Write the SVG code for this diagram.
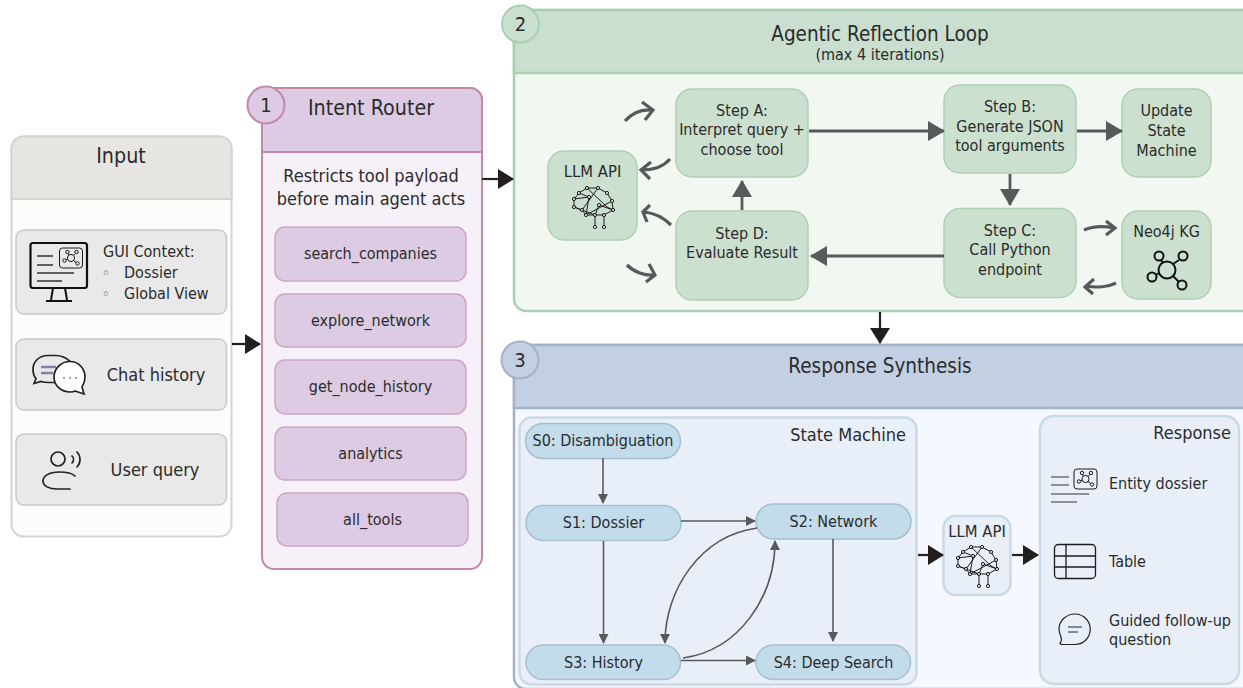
<svg xmlns="http://www.w3.org/2000/svg" width="1243" height="688" viewBox="0 0 1243 688">
<style>
text{font-family:"DejaVu Sans Condensed","DejaVu Sans","Liberation Sans",sans-serif;fill:#2b2b2b;text-anchor:middle}
.t20{font-size:20.500px}.t21{font-size:21.300px}.t18{font-size:18px}.t16{font-size:16px}.t165{font-size:16.500px}.num{font-size:20px}
.l{text-anchor:start}.e{text-anchor:end}
.bul{font-size:14px;font-family:"DejaVu Sans",sans-serif;fill:#444}
.card{fill:#e9e9e9;stroke:#c9c9c9;stroke-width:1.5}
.tool{fill:#dccbe3;stroke:#cda5c3;stroke-width:1.5}
.step{fill:#cbe0cf;stroke:#aed0b5;stroke-width:1.5}
.state{fill:#c3dcec;stroke:#a7bfd0;stroke-width:1.5}
.sub{fill:#e8eff9;stroke:#c9d9e8;stroke-width:2.5}
.blk{fill:none;stroke:#231f20;stroke-width:2.2}
.gr{fill:none;stroke:#58595b;stroke-width:2.8}
.cv{fill:none;stroke:#58595b;stroke-width:3.2;stroke-linejoin:miter}
.sm{fill:none;stroke:#58595b;stroke-width:1.6}
</style>
<defs>
<marker id="mb" markerUnits="userSpaceOnUse" markerWidth="16" markerHeight="20" refX="15" refY="10" orient="auto"><path d="M0 0L16 10L0 20Z" fill="#231f20"/></marker>
<marker id="mg" markerUnits="userSpaceOnUse" markerWidth="17" markerHeight="20" refX="16" refY="10" orient="auto"><path d="M0 0L17 10L0 20Z" fill="#58595b"/></marker>
<marker id="ms" markerUnits="userSpaceOnUse" markerWidth="10" markerHeight="10" refX="9" refY="5" orient="auto"><path d="M0 0L10 5L0 10Z" fill="#58595b"/></marker>
<g id="brain" fill="none" stroke="#1c1c1c" stroke-width="1">
<path d="M-14 -15L-6 -20L5 -20L14 -15L19 -7L20 2L11 7L2 7L-7 7L-11 2L-19 -1L-19 -9L-14 -15M-14 -15L-4 -11L-7 7M-19 -1L-11 2L2 7L2 19M11 7L11 19M-6 -20L14 -1L20 2M5 -20L-11 2M19 -7L-7 7M6 -3L2 7M-19 -9L-4 -11M6 -3L20 2"/>
<g fill="#fff" fill-opacity=".75"><circle cx="-6" cy="-20" r="1.600"/><circle cx="5" cy="-20" r="1.600"/><circle cx="14" cy="-15" r="1.600"/><circle cx="19" cy="-7" r="1.600"/><circle cx="20" cy="2" r="1.600"/><circle cx="11" cy="7" r="1.600"/><circle cx="2" cy="7" r="1.600"/><circle cx="-7" cy="7" r="1.600"/><circle cx="-11" cy="2" r="1.600"/><circle cx="-19" cy="-1" r="1.600"/><circle cx="-19" cy="-9" r="1.600"/><circle cx="-14" cy="-15" r="1.600"/><circle cx="-4" cy="-11" r="1.600"/><circle cx="6" cy="-3" r="1.600"/><circle cx="2" cy="19" r="1.600"/><circle cx="11" cy="19" r="1.600"/></g>
</g>
<g id="net" fill="none" stroke="#1c1c1c" stroke-width="1">
<rect x="-11.500" y="-10" width="23" height="20" rx="3"/>
<circle cx="0" cy="0" r="3.600"/><circle cx="-3.500" cy="-6" r="1.700"/><circle cx="5.500" cy="-6" r="1.700"/><circle cx="-6.500" cy="2.500" r="1.700"/><circle cx="6.500" cy="5.500" r="1.700"/>
<path d="M-2 -3L-3 -4.500M2.500 -2.500L4.500 -4.500M-3.500 1L-5 2M2.500 2.500L5 4.500"/>
</g>
</defs>

<g id="input">
<rect x="11.500" y="136.500" width="220" height="400" rx="12" fill="#fcfcfb" stroke="#d6d4d0" stroke-width="2"/>
<path d="M11.500 199V148.500a12 12 0 0 1 12 -12H219.500a12 12 0 0 1 12 12V199Z" fill="#e7e6e3" stroke="#d6d4d0" stroke-width="2"/>
<text class="t21" x="121" y="163">Input</text>
<g id="gui"><rect class="card" x="16" y="230" width="210.500" height="84" rx="8"/>
<rect x="30.500" y="243" width="56.500" height="45" rx="2.500" fill="none" stroke="#111" stroke-width="2.200"/>
<path d="M53 288L51 300M65 288L67 300M46 301H72" fill="none" stroke="#111" stroke-width="2"/>
<path d="M37 256H53M37 265H53M37 273H74M37 281H62" fill="none" stroke="#333" stroke-width="1.300"/>
<use href="#net" x="71" y="258"/>
<text class="t16 l" x="103" y="257">GUI Context:</text>
<text class="bul" x="106" y="278">◦</text><text class="t16 l" x="124" y="278">Dossier</text>
<text class="bul" x="106" y="299">◦</text><text class="t16 l" x="124" y="299">Global View</text></g>
<g id="chat"><rect class="card" x="16" y="339" width="210.500" height="71" rx="8"/>
<path d="M48 355.500c-9 0-15 6-15 14c0 4 1 7 3 9l-2 5l7-2c3 1 5 1 8 1h8c1-13 6-19 13-21c-3-4-10-6-14-6Z" fill="none" stroke="#222" stroke-width="1.700"/>
<path d="M41 367H56M41 373H53" stroke="#7e84a3" stroke-width="2.500"/>
<path d="M70 361.500c-9 0-16 7-16 15.500s7 15 16 15c2 0 4 0 5 -1l9 3l-2-7c2-3 3-6 3-10c0-8-6-15.500-15-15.500Z" fill="#fff" stroke="#222" stroke-width="1.700"/>
<g fill="#7e84a3"><circle cx="64" cy="378" r="1"/><circle cx="70" cy="378" r="1"/><circle cx="76" cy="378" r="1"/></g>
<text class="t18" x="156" y="381">Chat history</text></g>
<g id="user"><rect class="card" x="16" y="434" width="210.500" height="71" rx="8"/>
<circle cx="58" cy="459" r="7" fill="none" stroke="#222" stroke-width="1.700"/>
<path d="M75 476c-3-3-9-4-16-4c-10 0-16 4-16 9s6 8 14 8h13M72 456c2 2 2 5 0 7M77 452c4 4 4 11 0 15" fill="none" stroke="#222" stroke-width="1.700" stroke-linecap="round"/>
<text class="t18" x="155" y="476">User query</text></g>
</g>

<g id="router">
<rect x="262" y="88" width="220" height="481" rx="12" fill="#f6f1f8" stroke="#c08aa8" stroke-width="2"/>
<path d="M262 152V100a12 12 0 0 1 12 -12H470a12 12 0 0 1 12 12V152Z" fill="#dccbe3" stroke="#c08aa8" stroke-width="2"/>
<circle cx="266" cy="105" r="18.500" fill="#dccbe3" stroke="#c08aa8" stroke-width="2"/>
<text class="num" x="266" y="112">1</text>
<text class="t21" x="371" y="115">Intent Router</text>
<text class="t18" x="371" y="182">Restricts tool payload</text>
<text class="t18" x="371" y="205">before main agent acts</text>
<g id="t1"><rect class="tool" x="275" y="227" width="191" height="54" rx="10"/><text class="t16" x="370.500" y="259">search_companies</text></g>
<g id="t2"><rect class="tool" x="275" y="294" width="191" height="53" rx="10"/><text class="t16" x="370.500" y="326">explore_network</text></g>
<g id="t3"><rect class="tool" x="275" y="360" width="191" height="54" rx="10"/><text class="t16" x="370.500" y="392">get_node_history</text></g>
<g id="t4"><rect class="tool" x="275" y="427" width="191" height="53" rx="10"/><text class="t16" x="370.500" y="459">analytics</text></g>
<g id="t5"><rect class="tool" x="277" y="493" width="191" height="53" rx="10"/><text class="t16" x="372.500" y="525">all_tools</text></g>
</g>

<g id="reflection">
<rect x="514" y="10" width="740" height="301" rx="12" fill="#f2f8f1" stroke="#a9cfb1" stroke-width="2.500"/>
<path d="M514 73V22a12 12 0 0 1 12 -12H1254V73Z" fill="#cadfcf" stroke="#a9cfb1" stroke-width="2.500"/>
<circle cx="520.500" cy="24" r="18.500" fill="#cadfcf" stroke="#a9cfb1" stroke-width="2"/>
<text class="num" x="520.500" y="31">2</text>
<text class="t20" x="880" y="41">Agentic Reflection Loop</text>
<text class="t16" x="880" y="60">(max 4 iterations)</text>
<g id="stepA"><rect class="step" x="676" y="89" width="132" height="88" rx="16"/><text class="t16" x="742" y="116">Step A:</text><text class="t16" x="742" y="135">Interpret query +</text><text class="t16" x="742" y="155">choose tool</text></g>
<g id="stepB"><rect class="step" x="944" y="85" width="132" height="88" rx="16"/><text class="t16" x="1010" y="112">Step B:</text><text class="t16" x="1010" y="132">Generate JSON</text><text class="t16" x="1010" y="151">tool arguments</text></g>
<g id="update"><rect class="step" x="1122" y="89" width="89" height="88" rx="16"/><text class="t16" x="1166.500" y="116">Update</text><text class="t16" x="1166.500" y="136">State</text><text class="t16" x="1166.500" y="156">Machine</text></g>
<g id="stepC"><rect class="step" x="944" y="208.500" width="132" height="89" rx="16"/><text class="t16" x="1010" y="236">Step C:</text><text class="t16" x="1010" y="255">Call Python</text><text class="t16" x="1010" y="275">endpoint</text></g>
<g id="stepD"><rect class="step" x="676" y="211" width="132" height="89" rx="16"/><text class="t16" x="742" y="239">Step D:</text><text class="t16" x="742" y="258">Evaluate Result</text></g>
<g id="llm1"><rect class="step" x="548" y="151" width="89" height="89" rx="16"/><text class="t165" x="592.500" y="177">LLM API</text><use href="#brain" x="593" y="208"/></g>
<g id="neo"><rect class="step" x="1122" y="211" width="89" height="88" rx="16"/><text class="t16" x="1166.500" y="237">Neo4j KG</text>
<g fill="none" stroke="#111" stroke-width="2"><circle cx="1167" cy="270" r="8.500"/><circle cx="1159" cy="256" r="4.500"/><circle cx="1183" cy="256" r="4.500"/><circle cx="1152" cy="277" r="4.500"/><circle cx="1182" cy="285" r="4.500"/><path d="M1161 260L1163 263M1179 260L1173 264M1156 275L1159 273M1179 282L1173 276"/></g></g>
</g>

<g id="response">
<rect x="514" y="345" width="740" height="344" rx="12" fill="#f5f8fe" stroke="#a3b2c9" stroke-width="2.500"/>
<path d="M514 408V357a12 12 0 0 1 12 -12H1254V408Z" fill="#c3cfe3" stroke="#a3b2c9" stroke-width="2.500"/>
<circle cx="520" cy="360" r="18.500" fill="#c3cfe3" stroke="#a3b2c9" stroke-width="2"/>
<text class="num" x="520" y="367">3</text>
<text class="t20" x="880" y="373">Response Synthesis</text>
<rect class="sub" x="519.500" y="417.500" width="397" height="267" rx="12"/>
<text class="t18 e" x="906" y="441">State Machine</text>
<g id="s0"><rect class="state" x="525.500" y="423.500" width="155" height="35" rx="17.500"/><text class="t16" x="603" y="446">S0: Disambiguation</text></g>
<g id="s1"><rect class="state" x="526" y="505.500" width="155" height="35" rx="17.500"/><text class="t16" x="603.500" y="528">S1: Dossier</text></g>
<g id="s2"><rect class="state" x="756" y="504" width="155" height="35" rx="17.500"/><text class="t16" x="833.500" y="527">S2: Network</text></g>
<g id="s3"><rect class="state" x="526" y="645" width="154.500" height="34.500" rx="17.250"/><text class="t16" x="603.500" y="668">S3: History</text></g>
<g id="s4"><rect class="state" x="756" y="645" width="154.500" height="34.500" rx="17.250"/><text class="t16" x="833.500" y="668">S4: Deep Search</text></g>
<g id="llm2"><rect class="sub" x="943.500" y="516" width="67" height="79" rx="12" stroke-width="2"/><text class="t165" x="977" y="537">LLM API</text><use href="#brain" x="977" y="567"/></g>
<g id="resp"><rect class="sub" x="1040" y="416" width="199" height="268" rx="14"/>
<text class="t18 e" x="1231" y="439">Response</text>
<use href="#net" x="1085.500" y="479"/>
<path d="M1051 477H1069M1051 485H1069M1051 494H1089M1051 502H1077" fill="none" stroke="#333" stroke-width="1.200"/>
<text class="t16 l" x="1109" y="489">Entity dossier</text>
<rect x="1054.500" y="544.500" width="41" height="34" rx="4" fill="none" stroke="#1c1c1c" stroke-width="1.300"/>
<path d="M1055 556H1095M1055 567H1095M1066 545V578" fill="none" stroke="#1c1c1c" stroke-width="1.300"/>
<text class="t16 l" x="1109" y="567">Table</text>
<path d="M1075 614a15 15 0 0 1 0 30.500h-12c-2 0-3-.5-3-1.500c1-1 2-3 1-6c-1-3-2-5-2-8c0-8 7-15 16-15Z" fill="none" stroke="#222" stroke-width="1.200"/>
<path d="M1068 627H1082M1068 632H1078" stroke="#8088aa" stroke-width="1.800"/>
<text class="t16 l" x="1109" y="626">Guided follow-up</text>
<text class="t16 l" x="1109" y="645">question</text></g>
</g>

<g id="connectors">
<path class="blk" marker-end="url(#mb)" d="M232 344H260"/>
<path class="blk" marker-end="url(#mb)" d="M482 179H513"/>
<path class="blk" marker-end="url(#mb)" d="M880 312V343"/>
<path class="blk" marker-end="url(#mb)" d="M918 555H943"/>
<path class="blk" marker-end="url(#mb)" d="M1012 555H1038"/>
<path class="gr" marker-end="url(#mg)" d="M809 131H944"/>
<path class="gr" marker-end="url(#mg)" d="M1077 131H1122"/>
<path class="gr" marker-end="url(#mg)" d="M1010 174V205"/>
<path class="gr" marker-end="url(#mg)" d="M944 256H811"/>
<path class="gr" marker-end="url(#mg)" d="M742 210V181"/>
<path class="cv" d="M625 121C632 113 642 109 652 110M642 102L653 110L645 120"/>
<path class="cv" d="M670 159C663 167 652 170 642 170M651 162L641 170L650 179"/>
<path class="cv" d="M671 225C664 218 655 213 644 212M650 205L643 212L647 222"/>
<path class="cv" d="M627 265C634 272 645 276 654 275M649 264L655 275L646 282"/>
<path class="cv" d="M1084 230C1093 226 1104 226 1114 228M1106 221L1115 228L1106 235"/>
<path class="cv" d="M1116 283C1108 287 1096 288 1086 286M1094 279L1085 287L1093 294"/>
<path class="sm" marker-end="url(#ms)" d="M603 458V503"/>
<path class="sm" marker-end="url(#ms)" d="M603.500 541V643"/>
<path class="sm" marker-end="url(#ms)" d="M681 521H755"/>
<path class="sm" marker-end="url(#ms)" d="M833 539V641"/>
<path class="sm" marker-end="url(#ms)" d="M681 660.500H755"/>
<path class="sm" marker-end="url(#ms)" d="M757 528C700 536 665 590 665 643"/>
<path class="sm" marker-end="url(#ms)" d="M683 658C740 650 775 596 775 541"/>
</g>
</svg>
